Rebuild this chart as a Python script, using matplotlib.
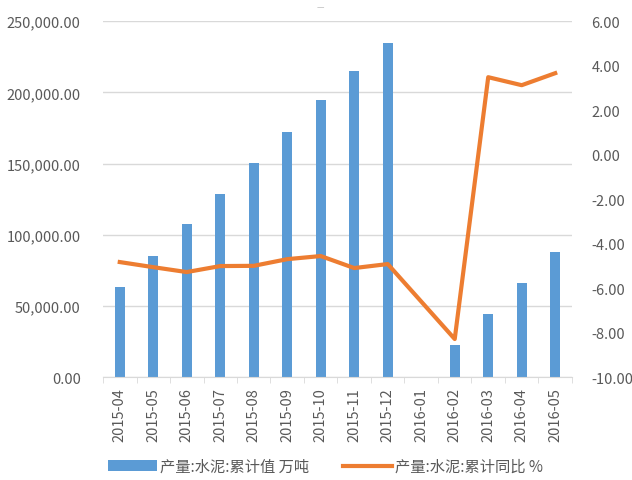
import numpy as np
import matplotlib
matplotlib.use('Agg')
import matplotlib.pyplot as plt
from matplotlib.ticker import FuncFormatter, FixedLocator

plt.rcParams['font.family'] = ['Noto Sans CJK SC', 'DejaVu Sans']

months = ['2015-04', '2015-05', '2015-06', '2015-07', '2015-08', '2015-09',
          '2015-10', '2015-11', '2015-12', '2016-01', '2016-02', '2016-03',
          '2016-04', '2016-05']
# 累计值 万吨 (2016-01 无数据)
output = [63200, 85000, 107400, 128500, 150300, 172000, 194500, 214900,
          234600, np.nan, 22500, 44200, 66000, 87800]
# 累计同比 %
yoy = [-4.83, -5.06, -5.28, -5.01, -5.0, -4.7, -4.56, -5.1, -4.92,
       np.nan, -8.29, 3.48, 3.12, 3.66]

blue = '#5b9bd5'
orange = '#ed7d31'
grey = '#595959'

fig = plt.figure(figsize=(6.32, 4.81), dpi=100)
ax = fig.add_axes([0.163, 0.214, 0.742, 0.740])
ax2 = ax.twinx()

x = np.arange(len(months))
ax.bar(x, output, width=0.3, color=blue, zorder=2, label='产量:水泥:累计值 万吨')

yoy = np.array(yoy)
ok = ~np.isnan(yoy)
ax2.plot(x[ok], yoy[ok], color=orange, lw=3, solid_joinstyle='round',
         label='产量:水泥:累计同比 %')

ax.set_xlim(-0.5, len(months) - 0.5)
ax.set_ylim(0, 250000)
ax.set_yticks(np.arange(0, 250001, 50000))
ax.yaxis.set_major_formatter(FuncFormatter(lambda v, p: f'{v:,.2f}'))
ax2.set_ylim(-10, 6)
ax2.set_yticks(np.arange(-10, 6.1, 2))
ax2.yaxis.set_major_formatter(FuncFormatter(lambda v, p: f'{v:.2f}'))

ax.set_xticks(x)
ax.set_xticklabels(months, rotation=90)
ax.xaxis.set_minor_locator(FixedLocator(np.arange(-0.5, len(months), 1)))
ax.tick_params(axis='x', which='major', length=0, pad=7)
ax.tick_params(axis='x', which='minor', length=4, color='#d9d9d9')
ax.tick_params(axis='y', length=0, pad=16)
ax2.tick_params(axis='y', length=0, pad=14)
for a in (ax, ax2):
    a.tick_params(labelsize=10.5, labelcolor=grey)
    for s in a.spines.values():
        s.set_visible(False)
ax.spines['bottom'].set_visible(True)
ax.spines['bottom'].set_color('#d9d9d9')

ax.grid(axis='y', color='#d9d9d9', lw=1)
ax.set_axisbelow(True)

fig.text(0.507, 0.985, '—', ha='center', va='center', fontsize=6, color='#bfbfbf')

h1, l1 = ax.get_legend_handles_labels()
h2, l2 = ax2.get_legend_handles_labels()
fig.legend(h1 + h2, l1 + l2, loc='lower center', bbox_to_anchor=(0.515, -0.018),
           ncol=2, frameon=False, fontsize=11, labelcolor=grey,
           handlelength=3.2, columnspacing=2.2, handletextpad=0.2)

fig.savefig('out.png', dpi=100)
